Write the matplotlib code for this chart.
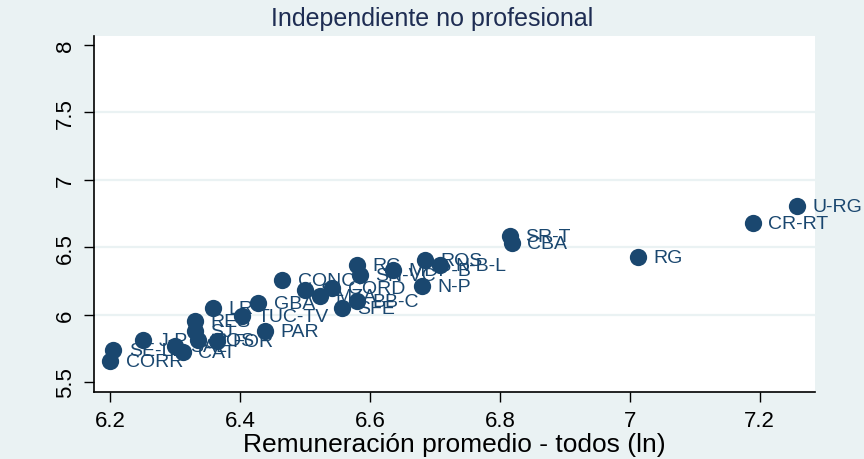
import matplotlib
matplotlib.use("Agg")
import matplotlib.pyplot as plt

plt.rcParams['font.family'] = ['Liberation Sans', 'DejaVu Sans']

labels = ["U-RG", "CR-RT", "RG", "SR-T", "CBA", "ROS", "N-B-L", "N-P", "RC", "SN-VC",
          "MDP-B", "CONC", "SL", "MZA", "CORD", "BB-C", "SFE", "GBA", "LR", "TUC-TV",
          "RES", "SJ", "PAR", "J-P", "POS", "SAL", "FOR", "CAT", "SE-LB", "CORR"]
remuneracion = [7.257, 7.189, 7.012, 6.815, 6.818, 6.685, 6.708, 6.680, 6.580, 6.585,
                6.635, 6.465, 6.500, 6.523, 6.542, 6.580, 6.557, 6.428, 6.358, 6.403,
                6.331, 6.331, 6.438, 6.251, 6.335, 6.300, 6.365, 6.312, 6.205, 6.200]
indep = [6.802, 6.676, 6.425, 6.580, 6.528, 6.402, 6.365, 6.210, 6.365, 6.291,
         6.328, 6.254, 6.180, 6.136, 6.195, 6.099, 6.047, 6.084, 6.047, 5.988,
         5.951, 5.877, 5.877, 5.811, 5.811, 5.766, 5.803, 5.722, 5.737, 5.655]
xticks = [6.2, 6.4, 6.6, 6.8, 7.0, 7.2]
xticklabels = ["6.2", "6.4", "6.6", "6.8", "7", "7.2"]
yticks = [5.5, 6.0, 6.5, 7.0, 7.5, 8.0]
yticklabels = ["5.5", "6", "6.5", "7", "7.5", "8"]

bg = "#eaf2f3"
navy = "#1a476f"

fig = plt.figure(figsize=(8.64, 4.6), dpi=100, facecolor=bg)
ax = fig.add_axes([0.1088, 0.1457, 0.8345, 0.7739])
ax.set_facecolor("white")

ax.set_xlim(6.175, 7.285)
ax.set_ylim(5.426, 8.067)

for yv in [6.0, 6.5, 7.0, 7.5]:
    ax.axhline(yv, color=bg, lw=1.6, zorder=0)

ax.scatter(remuneracion, indep, s=155, color=navy, zorder=3, linewidths=0)
for lab, xv, yv in zip(labels, remuneracion, indep):
    ax.annotate(lab, (xv, yv), xytext=(11, 0), textcoords="offset points",
                ha="left", va="center", fontsize=14, color=navy, zorder=4)

ax.set_xticks(xticks)
ax.set_xticklabels(xticklabels)
ax.set_yticks(yticks)
ax.set_yticklabels(yticklabels, rotation=90, va="center")
ax.tick_params(axis="both", direction="out", length=7, width=1, color="black",
               labelsize=16, labelcolor="black", pad=6)

for s in ["top", "right"]:
    ax.spines[s].set_visible(False)
for s in ["left", "bottom"]:
    ax.spines[s].set_linewidth(1.2)
    ax.spines[s].set_color("black")

ax.set_xlabel("Remuneración promedio - todos (ln)", fontsize=19, color="black", labelpad=1)
fig.text(0.5, 0.958, "Independiente no profesional", ha="center", va="center",
         fontsize=18, color="#1e2d53")

fig.savefig("out.png", dpi=100, facecolor=bg)
